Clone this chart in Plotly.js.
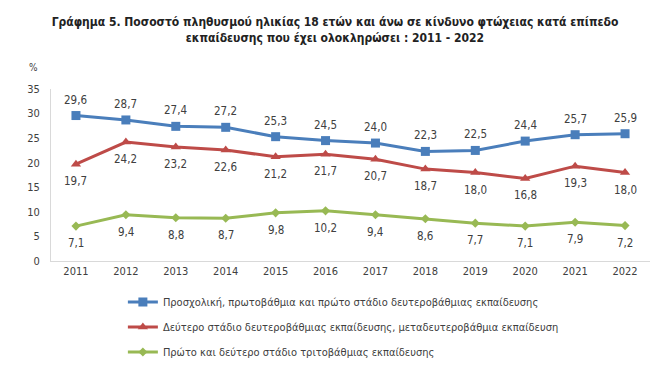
<!DOCTYPE html>
<html><head><meta charset="utf-8">
<script src="https://cdn.plot.ly/plotly-3.0.1.min.js"></script>
<style>body{margin:0;background:#fff}#c{width:670px;height:371px}</style>
</head><body><div id="c"></div>
<script>
const years = ['2011','2012','2013','2014','2015','2016','2017','2018','2019','2020','2021','2022'];
const primary = [29.6,28.7,27.4,27.2,25.3,24.5,24.0,22.3,22.5,24.4,25.7,25.9];
const secondary = [19.7,24.2,23.2,22.6,21.2,21.7,20.7,18.7,18.0,16.8,19.3,18.0];
const tertiary = [7.1,9.4,8.8,8.7,9.8,10.2,9.4,8.6,7.7,7.1,7.9,7.2];
const names = [
 'Προσχολική, πρωτοβάθμια και πρώτο στάδιο δευτεροβάθμιας εκπαίδευσης',
 'Δεύτερο στάδιο δευτεροβάθμιας εκπαίδευσης, μεταδευτεροβάθμια εκπαίδευση',
 'Πρώτο και δεύτερο στάδιο τριτοβάθμιας εκπαίδευσης'
];
const colors = ['#4A7EBB','#BE4B48','#98B954'];
const symbols = ['square','triangle-up','diamond'];
const sizes = [9,9,7];
const series = [primary, secondary, tertiary];
const shifts = [16,-17,-17];
const font = "DejaVu Sans Condensed, Noto Sans, sans-serif";

const traces = series.map((s,i)=>({
  x: years, y: s, type:'scatter', mode:'lines+markers', name: names[i],
  legendgroup:'g'+i,
  line:{color:colors[i], width:3},
  marker:{symbol:symbols[i], size:sizes[i], color:colors[i]}
}));
const annotations = [];
series.forEach((s,i)=>s.forEach((v,j)=>annotations.push({
  x: j, y: v, xref:'x', yref:'y', text: v.toFixed(1).replace('.',','),
  showarrow:false, yshift: shifts[i], font:{size:11.5,color:'#404040',family:font}
})));
annotations.push({xref:'paper',yref:'paper',x:-0.03,y:1.17,text:'%',showarrow:false,
  font:{size:10,color:'#404040',family:font}, xanchor:'center'});

Plotly.newPlot('c', traces, {
  width:670, height:371,
  margin:{l:51,r:20,t:89,b:110},
  paper_bgcolor:'#fff', plot_bgcolor:'#fff',
  title:{text:'<b>Γράφημα 5. Ποσοστό πληθυσμού ηλικίας 18 ετών και άνω σε κίνδυνο φτώχειας κατά επίπεδο<br>εκπαίδευσης που έχει ολοκληρώσει : 2011 - 2022</b>',
    x:0.5, xref:'container', y:0.93, yref:'container', yanchor:'top', font:{size:12,color:'#222',family:font}},
  xaxis:{type:'category', range:[-0.5,11.5], showgrid:false, showline:true, linecolor:'#D9D9D9',
    ticks:'', tickfont:{size:11,color:'#404040',family:font}},
  yaxis:{range:[0,35], dtick:5, showgrid:false, showline:true, linecolor:'#D9D9D9', zeroline:false,
    ticks:'', ticklabelstandoff:8, tickfont:{size:11,color:'#404040',family:font}},
  showlegend:true,
  legend:{orientation:'v', x:0.12, xanchor:'left', yref:'container', y:0.225, yanchor:'top', tracegroupgap:6,
    font:{size:11,color:'#404040',family:font}, itemwidth:30},
  annotations: annotations
}, {displayModeBar:false, staticPlot:true});
</script></body></html>
